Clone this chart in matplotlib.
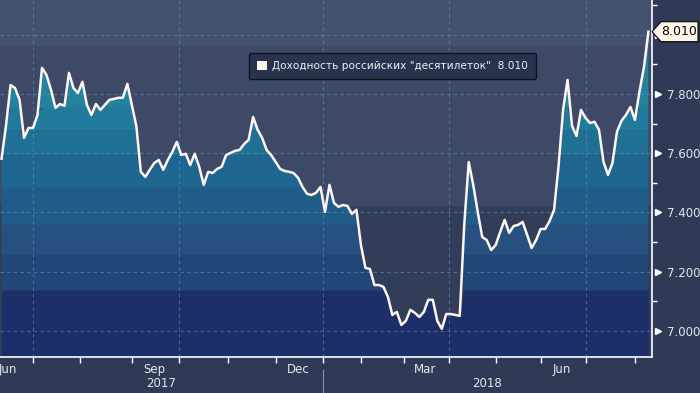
import numpy as np
import pandas as pd
import matplotlib
matplotlib.use('Agg')
from matplotlib import pyplot as plt
from matplotlib.patches import Patch, Polygon

# trading calendar of the source chart: weekdays without Russian holidays
holidays = ['2017-06-12', '2017-11-06',
            '2018-01-01', '2018-01-02', '2018-01-03', '2018-01-04', '2018-01-05', '2018-01-08',
            '2018-02-23', '2018-03-08', '2018-03-09', '2018-05-01', '2018-05-02',
            '2018-05-09', '2018-06-12']
first_day = '2017-06-13'
last_day = '2018-08-09'

# 10y OFZ yield, %, read every second trading day
yields = [
    7.581, 7.695, 7.830, 7.820, 7.780, 7.652, 7.685, 7.685, 7.729, 7.888,
    7.864, 7.814, 7.753, 7.766, 7.760, 7.871, 7.820, 7.803, 7.841, 7.763,
    7.729, 7.766, 7.746, 7.763, 7.780, 7.783, 7.787, 7.787, 7.834, 7.763,
    7.692, 7.537, 7.520, 7.544, 7.567, 7.577, 7.544, 7.577, 7.604, 7.638,
    7.594, 7.598, 7.560, 7.598, 7.554, 7.493, 7.537, 7.533, 7.547, 7.554,
    7.594, 7.601, 7.608, 7.611, 7.631, 7.645, 7.722, 7.679, 7.652, 7.611,
    7.594, 7.571, 7.547, 7.540, 7.537, 7.533, 7.517, 7.486, 7.463, 7.459,
    7.466, 7.486, 7.402, 7.493, 7.432, 7.419, 7.425, 7.422, 7.395, 7.409,
    7.290, 7.213, 7.209, 7.155, 7.155, 7.149, 7.115, 7.054, 7.064, 7.020,
    7.034, 7.071, 7.061, 7.047, 7.064, 7.105, 7.105, 7.034, 7.007, 7.057,
    7.057, 7.054, 7.051, 7.358, 7.570, 7.493, 7.402, 7.317, 7.307, 7.273,
    7.290, 7.334, 7.375, 7.331, 7.354, 7.358, 7.368, 7.324, 7.280, 7.307,
    7.344, 7.344, 7.371, 7.409, 7.557, 7.746, 7.847, 7.692, 7.658, 7.746,
    7.719, 7.702, 7.706, 7.679, 7.571, 7.527, 7.567, 7.672, 7.709, 7.729,
    7.756, 7.712, 7.807, 7.890, 8.010,
]
last_value = 8.010
series_label = 'Доходность российских "десятилеток"  ' + f'{last_value:.3f}'

y_ticks = [7.0, 7.2, 7.4, 7.6, 7.8, 8.0]
y_minor = [7.1, 7.3, 7.5, 7.7, 7.9, 8.1]
month_labels = ['Jun', 'Sep', 'Dec', 'Mar', 'Jun']
label_months = ['2017-06', '2017-09', '2017-12', '2018-03', '2018-06']
grid_months = ['2017-07', '2017-10', '2018-01', '2018-04', '2018-07']
years = ['2017', '2018']

# colour bands under the curve (value edges) and background bands
fill_edges = [6.0, 7.138, 7.257, 7.357, 7.483, 7.594, 7.678, 7.753, 9.0]
fill_colors = ['#1c2f69', '#214678', '#26507f', '#1f5c88', '#1e6690',
               '#1f7094', '#217a9c', '#23839f']
bg_edges = [6.0, 7.42, 7.962, 9.0]
bg_colors = ['#323d5a', '#3d4967', '#44516f']

cal = pd.bdate_range('2017-06-01', '2018-09-03')
cal = cal[~cal.isin(pd.to_datetime(holidays))]
start = cal.get_loc(pd.Timestamp(first_day))
pos = np.arange(len(cal)) - start
days = cal[(cal >= first_day) & (cal <= last_day)]
x = pos[start:start + len(days)][::2]
y = np.array(yields)
assert len(x) == len(y)

month_key = cal.strftime('%Y-%m')
month_first = pd.Series(pos).groupby(month_key).min()
month_end = pd.Series(pos).groupby(month_key).max() + 1

fig = plt.figure(figsize=(7, 3.93), dpi=100, facecolor='#2f3a56')
ax = fig.add_axes([0, 36 / 393, 652 / 700, 357 / 393])
ax.set_facecolor('#323d5a')
ax.set_xlim(-0.7, 289.6)
ax.set_ylim(6.912, 8.117)

for lo, hi, c in zip(bg_edges[:-1], bg_edges[1:], bg_colors):
    ax.axhspan(lo, hi, color=c, lw=0, zorder=0)

for lo, hi, c in zip(fill_edges[:-1], fill_edges[1:], fill_colors):
    ax.fill_between(x, lo, np.minimum(y, hi), where=y > lo, interpolate=True,
                    color=c, lw=0, zorder=1)

grid_kw = dict(color='#5a9ab5', alpha=0.55, lw=0.8, ls=(0, (3, 3)), zorder=2)
for v in y_ticks:
    ax.axhline(v, **grid_kw)
for m in grid_months:
    ax.axvline(month_first[m], **grid_kw)

ax.plot(x, y, color='#fff5f0', lw=1.8, zorder=4, solid_joinstyle='round')

for side in ['top', 'left']:
    ax.spines[side].set_visible(False)
for side in ['right', 'bottom']:
    ax.spines[side].set_color('white')
    ax.spines[side].set_linewidth(1.2)

# the last value tag sits where the 8.000 label would be, so that one is hidden
ax.yaxis.tick_right()
ax.set_yticks(y_ticks)
ax.set_yticklabels([f'{v:.3f}' if abs(v - last_value) > 0.05 else ''
                    for v in y_ticks])
ax.set_yticks(y_minor, minor=True)
ax.tick_params(axis='y', which='major', length=0, pad=11, labelsize=8.5,
               labelcolor='#e3e6ee')
ax.tick_params(axis='y', which='minor', length=3.5, width=1, color='white')
ax.plot([1.009] * len(y_ticks), y_ticks, ls='none', marker='>', ms=5,
        color='white', transform=ax.get_yaxis_transform(), clip_on=False)

tick_months = [m for m in month_first.index if 0 < month_first[m] < 289]
ax.set_xticks([month_first[m] for m in tick_months])
ax.set_xticklabels([])
ax.tick_params(axis='x', length=4, width=1, color='white', direction='out')

xt = ax.get_xaxis_transform()
for lab, m in zip(month_labels, label_months):
    cx = (month_first[m] + month_end[m]) / 2 - 0.5
    ax.text(cx, -0.034, lab, transform=xt, ha='center', va='center',
            fontsize=8.5, color='#e6e8ee', clip_on=False)
jan = month_first['2018-01']
ax.plot([jan, jan], [-0.036, -0.11], transform=xt, color='#8c95aa', lw=0.8,
        clip_on=False)
x_lo, x_hi = ax.get_xlim()
for yr, (a, b) in zip(years, [(x_lo, jan), (jan, x_hi)]):
    ax.text((a + b) / 2, -0.073, yr, transform=xt, ha='center', va='center',
            fontsize=8.5, color='#e6e8ee', clip_on=False)

leg = ax.legend(handles=[Patch(facecolor='#fdf4ee', edgecolor='none')],
                labels=[series_label], loc='upper left',
                bbox_to_anchor=(249 / 652, 1 - 53 / 357), borderaxespad=0,
                fontsize=7.6, handlelength=0.95, handleheight=0.95,
                handletextpad=0.5, borderpad=0.75, fancybox=True,
                framealpha=1, facecolor='#29334d', edgecolor='#0d1220',
                labelcolor='#eef0f4')
leg.get_frame().set_linewidth(1.0)
leg.set_zorder(6)

# last value tag on the right axis
W, H = 700, 393
yc = ax.transData.transform((0, last_value))[1]
verts = [(652, yc), (661, yc + 10), (698, yc + 10), (698, yc - 10), (661, yc - 10)]
fig.add_artist(Polygon([(a / W, b / H) for a, b in verts], closed=True,
                       transform=fig.transFigure, facecolor='#fff6ea',
                       edgecolor='black', lw=0.8, zorder=10))
fig.text(679 / W, yc / H, f'{last_value:.3f}', ha='center', va='center',
         fontsize=9, color='black', zorder=11)

fig.savefig('out.png', dpi=100, facecolor=fig.get_facecolor())
